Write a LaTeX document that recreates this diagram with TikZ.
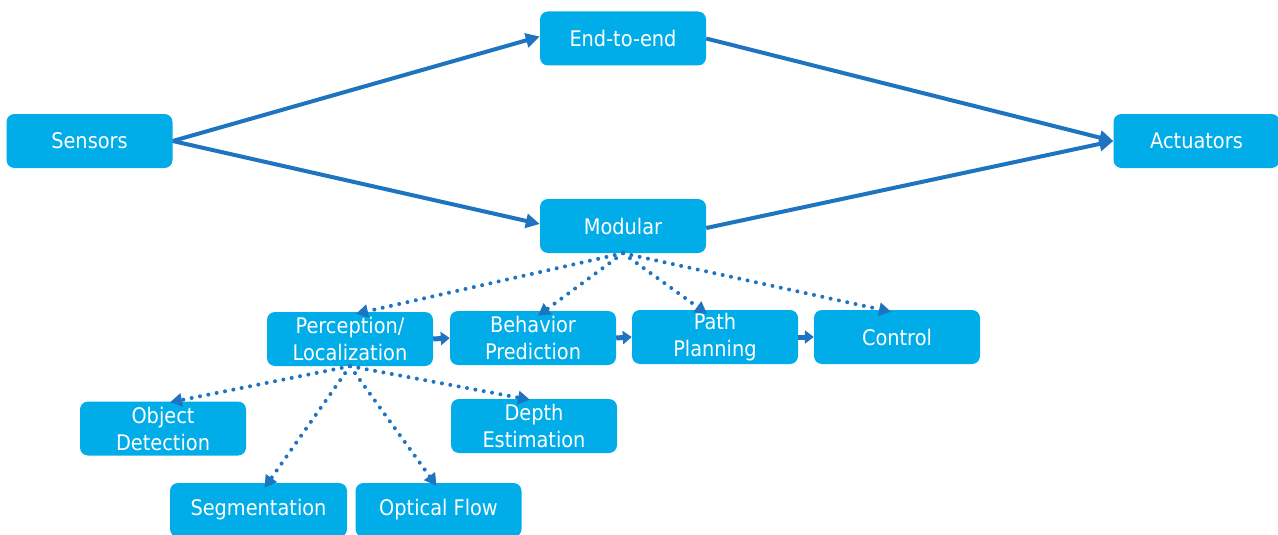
\documentclass[tikz,border=0pt]{standalone}
\usepackage{fontspec}
\setmainfont{DejaVu Sans Condensed}
\usetikzlibrary{arrows.meta}
\definecolor{boxfill}{RGB}{0,173,232}
\definecolor{linkblue}{RGB}{30,116,192}
\tikzset{
  block/.style={rectangle, rounded corners=8pt, fill=boxfill, text=white,
    minimum width=166pt, minimum height=54pt, inner sep=2pt, align=center,
    font=\fontsize{21.5}{27}\selectfont},
  flow/.style={draw=linkblue, line width=4pt,
    -{Triangle[length=14pt,width=14pt]}},
  dots/.style={draw=linkblue, line width=4pt, line cap=round,
    dash pattern=on 0pt off 8.5pt, -{Triangle[length=12pt,width=13pt]}},
  chain/.style={draw=linkblue, line width=5pt,
    -{Triangle[length=9pt,width=13pt]}}
}
\begin{document}
\begin{tikzpicture}[x=1pt,y=-1pt]
\useasboundingbox (0,0) rectangle (1278,535);
% main blocks
\node[block] (sens) at (89.5,141) {Sensors};
\node[block] (e2e)  at (623,38.5) {End-to-end};
\node[block] (act)  at (1196.5,141) {Actuators};
\node[block] (mod)  at (623,226) {Modular};
% modular pipeline
\node[block] (perc) at (350,339) {Perception/\\Localization};
\node[block] (beh)  at (533,338) {Behavior\\Prediction};
\node[block] (path) at (715,337) {Path\\Planning};
\node[block] (ctrl) at (897,337) {Control};
% perception sub-tasks
\node[block] (obj)  at (163,428.5) {Object\\Detection};
\node[block] (dep)  at (534,426) {Depth\\Estimation};
\node[block, minimum width=177pt] (seg) at (258.5,510) {Segmentation};
\node[block] (opt)  at (438.5,510) {Optical Flow};
% top-level links
\draw[flow] (sens.east) -- ([yshift=2pt]e2e.west);
\draw[flow] (sens.east) -- ([yshift=2pt]mod.west);
\draw[flow] (e2e.east) -- (act.west);
\draw[flow] ([yshift=-2pt]mod.east) -- (act.west);
% modular decomposition
\draw[dots] (mod.south) -- ([xshift=6pt,yshift=-2pt]perc.north);
\draw[dots] (mod.south) -- ([xshift=5pt,yshift=-5pt]beh.north);
\draw[dots] (mod.south) -- ([xshift=-8pt,yshift=-4pt]path.north);
\draw[dots] (mod.south) -- ([xshift=-6pt,yshift=-2pt]ctrl.north);
% pipeline order
\draw[chain] (perc.east) -- (beh.west);
\draw[chain] (beh.east) -- (path.west);
\draw[chain] (path.east) -- (ctrl.west);
% perception decomposition
\draw[dots] (perc.south) -- ([xshift=7pt,yshift=-1pt]obj.north);
\draw[dots] (perc.south) -- ([xshift=6pt,yshift=-5pt]seg.north);
\draw[dots] (perc.south) -- ([xshift=-2pt,yshift=-3pt]opt.north);
\draw[dots] (perc.south) -- ([xshift=-4pt,yshift=-1pt]dep.north);
\end{tikzpicture}
\end{document}
